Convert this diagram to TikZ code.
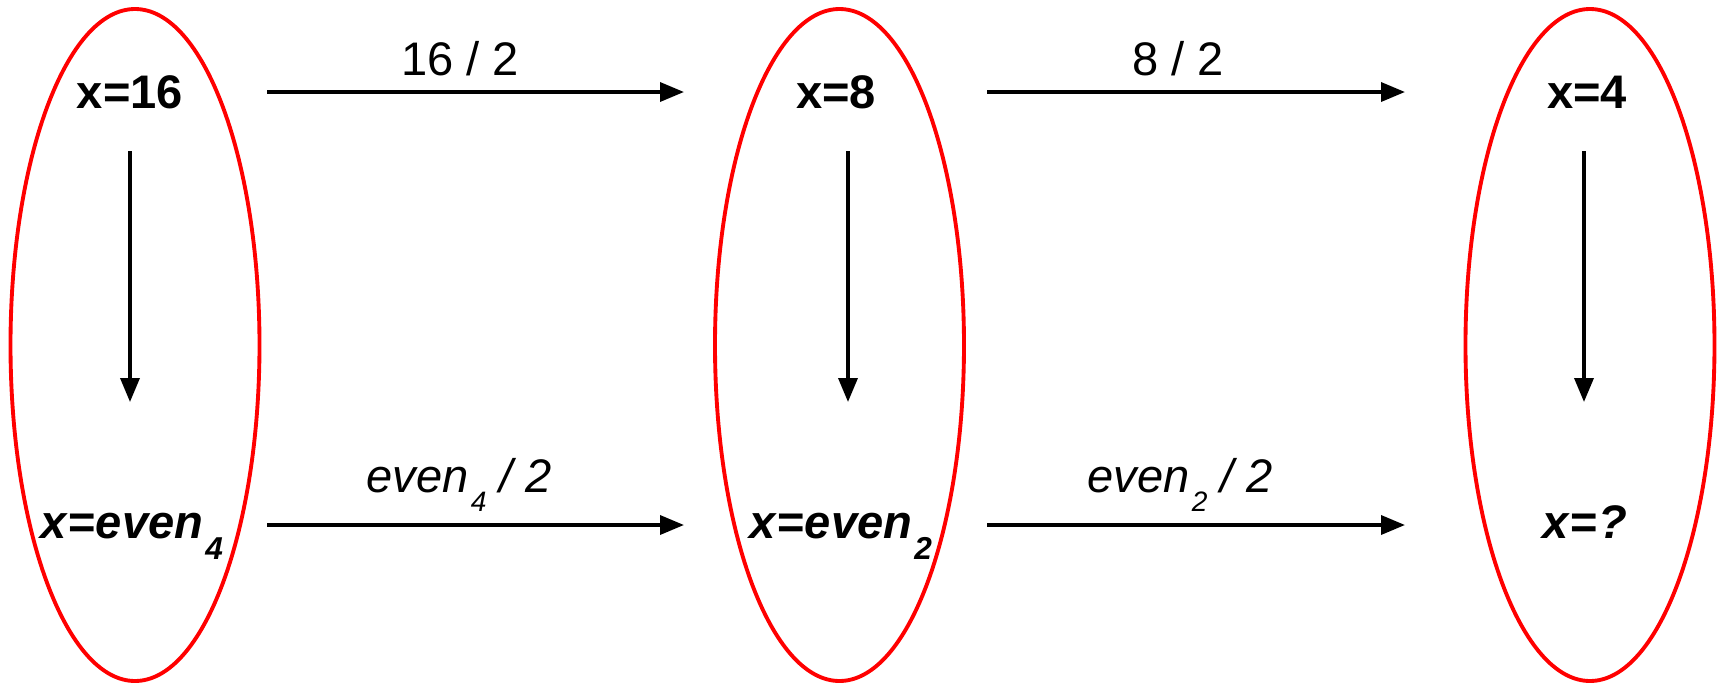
\documentclass[tikz,border=0pt]{standalone}
\usepackage{fontspec}
\setmainfont{Liberation Sans}
\usetikzlibrary{arrows.meta}
% tiefgestellter Index: Absenkung, Groesse, Text
\newcommand{\tiefidx}[3]{\kern0.6pt\raisebox{-#1}{\fontsize{#2}{#2}\selectfont #3}}
\begin{document}
\begin{tikzpicture}[
	font=\fontsize{13.4}{15}\selectfont,
	state/.style={draw=red, line width=1.1pt},
	pfeil/.style={line width=1pt, -{Triangle[length=0.24cm,width=0.19cm]}},
	wert/.style={inner sep=0pt, font=\fontsize{13.4}{15}\selectfont\bfseries},
	lbl/.style={inner sep=0pt}
	]
	\useasboundingbox (0,0) rectangle (17.25,6.83);
	
	% Zustaende
	\foreach \x in {1.35, 8.395, 15.90} {
		\draw[state] (\x,3.38) ellipse (1.245 and 3.36);
	}
	
	% Werte
	\node[wert, anchor=base] (a1) at (1.30,5.75) {x=16};
	\node[wert, anchor=base] (a2) at (8.36,5.75) {x=8};
	\node[wert, anchor=base] (a3) at (15.87,5.75) {x=4};
	
	\node[wert, anchor=base west] (b1) at (0.40,1.45) {\textit{x}=\textit{even}\tiefidx{6.2pt}{9}{\textit{4}}};
	\node[wert, anchor=base west] (b2) at (7.49,1.45) {\textit{x}=\textit{even}\tiefidx{6.2pt}{9}{\textit{2}}};
	\node[wert, anchor=base] (b3) at (15.85,1.45) {\textit{x}=\textit{?}};
	
	% Pfeilenden
	\coordinate (v1o) at (1.30,5.32); \coordinate (v1u) at (1.30,2.81);
	\coordinate (v2o) at (8.48,5.32); \coordinate (v2u) at (8.48,2.81);
	\coordinate (v3o) at (15.84,5.32); \coordinate (v3u) at (15.84,2.81);
	
	\coordinate (h1l) at (2.67,5.91); \coordinate (h1r) at (6.84,5.91);
	\coordinate (h2l) at (9.87,5.91); \coordinate (h2r) at (14.05,5.91);
	\coordinate (h3l) at (2.67,1.58); \coordinate (h3r) at (6.84,1.58);
	\coordinate (h4l) at (9.87,1.58); \coordinate (h4r) at (14.05,1.58);
	
	% Pfeile
	\foreach \o/\u in {v1o/v1u, v2o/v2u, v3o/v3u, h1l/h1r, h2l/h2r, h3l/h3r, h4l/h4r} {
		\draw[pfeil] (\o) -- (\u);
	}
	
	% Beschriftungen
	\node[lbl, anchor=base] (l1) at (4.60,6.08) {16 / 2};
	\node[lbl, anchor=base] (l2) at (11.78,6.08) {8 / 2};
	\node[lbl, anchor=base west] (l3) at (3.66,1.91) {\textit{even}\tiefidx{5.5pt}{8}{\textit{4}}\textit{ / 2}};
	\node[lbl, anchor=base west] (l4) at (10.87,1.91) {\textit{even}\tiefidx{5.5pt}{8}{\textit{2}}\textit{ / 2}};
	
\end{tikzpicture}
\end{document}
